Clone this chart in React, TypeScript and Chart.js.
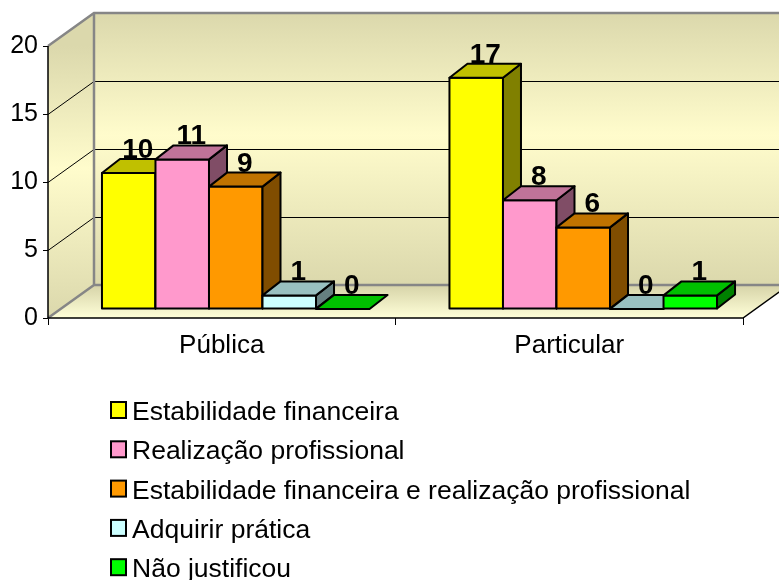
import { useEffect, useRef } from "react";
import { Chart, registerables } from "chart.js";

Chart.register(...registerables);

// ---- data ----
const categories = ["Pública", "Particular"];
const seriesLabels = [
  "Estabilidade financeira",
  "Realização profissional",
  "Estabilidade financeira e realização profissional",
  "Adquirir prática",
  "Não justificou",
];
const estabilidadeFinanceira = [10, 17];
const realizacaoProfissional = [11, 8];
const estabilidadeERealizacao = [9, 6];
const adquirirPratica = [1, 0];
const naoJustificou = [0, 1];
const yTickValues = [0, 5, 10, 15, 20];

const frontColors = ["#ffff00", "#ff99cc", "#ff9900", "#ccffff", "#00ff00"];
const topColors = ["#c0c000", "#c07399", "#c07300", "#99c0c0", "#00c000"];
const sideColors = ["#808000", "#804d66", "#804d00", "#668080", "#008000"];

const FONT = "'Liberation Sans', Arial, Helvetica, sans-serif";

// wall depth
const WX = 46;
const WY = -33;
// bar placement inside depth
const BX = 14;
const BY = -9;
// bar depth
const DX = 18;
const DY = -14;

const threeDPlugin = {
  id: "threeD",
  beforeDatasetsDraw(chart: any) {
    const { ctx, chartArea } = chart;
    const { left, right, top, bottom } = chartArea;
    const yScale = chart.scales.y;
    ctx.save();

    // back wall
    const bw = ctx.createLinearGradient(0, top + WY, 0, bottom + WY);
    bw.addColorStop(0, "#dbd8ac");
    bw.addColorStop(0.45, "#fffccc");
    bw.addColorStop(1, "#dbd8ac");
    ctx.fillStyle = bw;
    ctx.fillRect(left + WX, top + WY, right - left + 10, bottom - top);

    // left wall
    const lw = ctx.createLinearGradient(0, top, 0, bottom);
    lw.addColorStop(0, "#dbd8ac");
    lw.addColorStop(0.45, "#fffccc");
    lw.addColorStop(1, "#dbd8ac");
    ctx.fillStyle = lw;
    ctx.beginPath();
    ctx.moveTo(left, top);
    ctx.lineTo(left + WX, top + WY);
    ctx.lineTo(left + WX, bottom + WY);
    ctx.lineTo(left, bottom);
    ctx.closePath();
    ctx.fill();

    // floor
    const fl = ctx.createLinearGradient(0, bottom + WY, 0, bottom);
    fl.addColorStop(0, "#d6d3a8");
    fl.addColorStop(1, "#ffffd8");
    ctx.fillStyle = fl;
    ctx.beginPath();
    ctx.moveTo(left, bottom);
    ctx.lineTo(right, bottom);
    ctx.lineTo(right + WX, bottom + WY);
    ctx.lineTo(left + WX, bottom + WY);
    ctx.closePath();
    ctx.fill();

    // gridlines
    ctx.strokeStyle = "#000000";
    ctx.lineWidth = 1;
    yTickValues.forEach((v) => {
      if (v === yScale.min || v === yScale.max) return;
      const py = Math.round(yScale.getPixelForValue(v)) + 0.5;
      ctx.beginPath();
      ctx.moveTo(left, py);
      ctx.lineTo(left + WX, py + WY);
      ctx.lineTo(right + WX + 10, py + WY);
      ctx.stroke();
    });

    // gray edges
    ctx.strokeStyle = "#868686";
    ctx.lineWidth = 2.5;
    ctx.beginPath();
    ctx.moveTo(left, top);
    ctx.lineTo(left + WX, top + WY);
    ctx.lineTo(right + WX + 10, top + WY);
    ctx.moveTo(left + WX, top + WY);
    ctx.lineTo(left + WX, bottom + WY);
    ctx.lineTo(right + WX + 10, bottom + WY);
    ctx.moveTo(left, bottom);
    ctx.lineTo(left + WX, bottom + WY);
    ctx.stroke();

    // black front edges
    ctx.strokeStyle = "#000000";
    ctx.lineWidth = 1.5;
    ctx.beginPath();
    ctx.moveTo(left, top);
    ctx.lineTo(left, bottom);
    ctx.lineTo(right, bottom);
    ctx.lineTo(right + WX, bottom + WY);
    ctx.stroke();

    ctx.restore();
  },
  afterDatasetsDraw(chart: any) {
    const { ctx } = chart;
    const nDs = chart.data.datasets.length;
    const nCat = chart.data.labels.length;
    const labelsToDraw: { x: number; y: number; text: string }[] = [];
    ctx.save();
    ctx.lineWidth = 2;
    ctx.lineJoin = "round";
    ctx.strokeStyle = "#000000";
    for (let j = 0; j < nCat; j++) {
      for (let i = 0; i < nDs; i++) {
        const meta = chart.getDatasetMeta(i);
        const el = meta.data[j];
        if (!el) continue;
        const p = el.getProps(["x", "y", "base", "width"], true);
        const l = p.x - p.width / 2 + BX;
        const r = p.x + p.width / 2 + BX;
        const t = p.y + BY;
        const b = p.base + BY;
        if (b - t > 0.5) {
          // front
          ctx.fillStyle = frontColors[i];
          ctx.beginPath();
          ctx.rect(l, t, r - l, b - t);
          ctx.fill();
          ctx.stroke();
          // side
          ctx.fillStyle = sideColors[i];
          ctx.beginPath();
          ctx.moveTo(r, t);
          ctx.lineTo(r + DX, t + DY);
          ctx.lineTo(r + DX, b + DY);
          ctx.lineTo(r, b);
          ctx.closePath();
          ctx.fill();
          ctx.stroke();
        }
        // top
        ctx.fillStyle = topColors[i];
        ctx.beginPath();
        ctx.moveTo(l, t);
        ctx.lineTo(l + DX, t + DY);
        ctx.lineTo(r + DX, t + DY);
        ctx.lineTo(r, t);
        ctx.closePath();
        ctx.fill();
        ctx.stroke();
        const v = chart.data.datasets[i].data[j];
        labelsToDraw.push({ x: (l + r) / 2 + DX / 2, y: t + DY - 1, text: String(v) });
      }
    }
    ctx.fillStyle = "#000000";
    ctx.font = `bold 28px ${FONT}`;
    ctx.textAlign = "center";
    ctx.textBaseline = "alphabetic";
    labelsToDraw.forEach((lb) => ctx.fillText(lb.text, lb.x, lb.y));
    ctx.restore();
  },
  afterDraw(chart: any) {
    // legend, one row per series, left aligned
    const { ctx } = chart;
    ctx.save();
    ctx.textAlign = "left";
    ctx.textBaseline = "alphabetic";
    ctx.font = `26.5px ${FONT}`;
    chart.data.datasets.forEach((ds: any, i: number) => {
      const baseline = 420 + i * 39.3;
      ctx.fillStyle = frontColors[i];
      ctx.fillRect(111, baseline - 18, 15, 16);
      ctx.strokeStyle = "#000000";
      ctx.lineWidth = 2;
      ctx.strokeRect(111, baseline - 18, 15, 16);
      ctx.fillStyle = "#000000";
      ctx.fillText(ds.label, 132, baseline);
    });
    ctx.restore();
  },
};

export default function App() {
  const canvasRef = useRef<HTMLCanvasElement | null>(null);

  useEffect(() => {
    document.body.style.margin = "0";
    const canvas = canvasRef.current;
    if (!canvas) return;
    const seriesValues = [
      estabilidadeFinanceira,
      realizacaoProfissional,
      estabilidadeERealizacao,
      adquirirPratica,
      naoJustificou,
    ];
    const chart = new Chart(canvas, {
      type: "bar",
      data: {
        labels: categories,
        datasets: seriesValues.map((vals, i) => ({
          label: seriesLabels[i],
          data: vals,
          backgroundColor: "rgba(0,0,0,0)",
          borderWidth: 0,
          categoryPercentage: 0.77,
          barPercentage: 1,
        })),
      },
      options: {
        responsive: false,
        animation: false,
        events: [],
        devicePixelRatio: 1,
        layout: { padding: { left: 0, top: 46, right: 36, bottom: 0 } },
        plugins: {
          legend: { display: false },
          tooltip: { enabled: false },
          title: { display: false },
        },
        scales: {
          x: {
            grid: {
              drawOnChartArea: false,
              drawTicks: true,
              tickLength: 7,
              color: "#000000",
              lineWidth: 1,
            },
            border: { display: false },
            ticks: {
              color: "#000000",
              font: { family: FONT, size: 26 },
              padding: 5,
              maxRotation: 0,
            },
            afterFit: (scale: any) => {
              scale.height = 262;
            },
          },
          y: {
            min: 0,
            max: 20,
            grid: {
              drawOnChartArea: false,
              drawTicks: true,
              tickLength: 5,
              color: "#000000",
              lineWidth: 1,
            },
            border: { display: false },
            ticks: {
              stepSize: 5,
              color: "#000000",
              font: { family: FONT, size: 25 },
              padding: 5,
            },
            afterFit: (scale: any) => {
              scale.width = 48;
            },
          },
        },
      },
      plugins: [threeDPlugin],
    });
    return () => chart.destroy();
  }, []);

  return (
    <div style={{ width: 779, height: 580 }}>
      <canvas ref={canvasRef} width={779} height={580} style={{ display: "block" }} />
    </div>
  );
}
